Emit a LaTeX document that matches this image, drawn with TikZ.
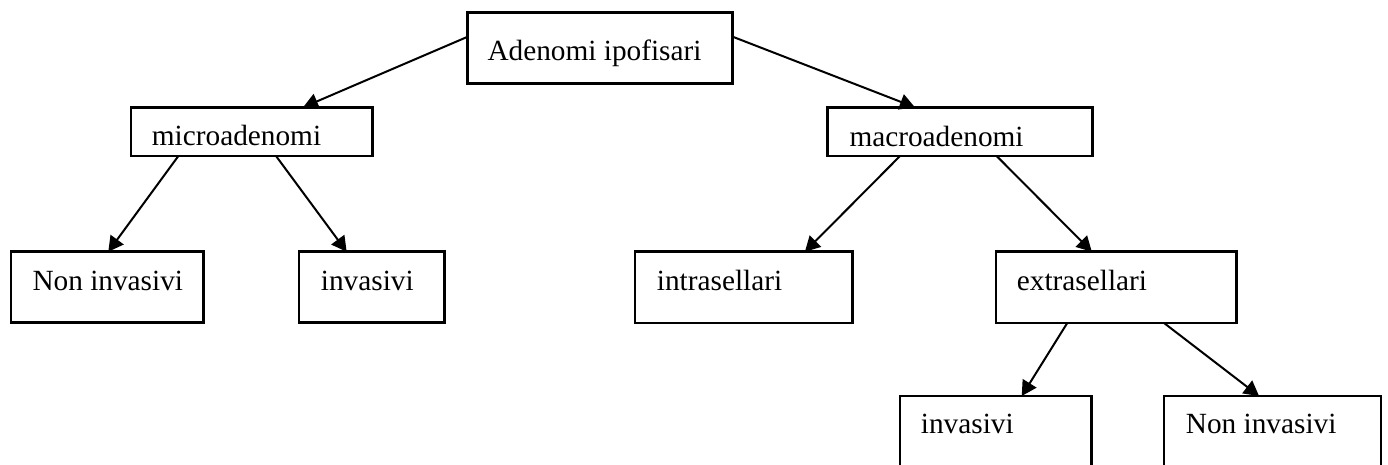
\documentclass[tikz,border=0pt]{standalone}
\usepackage{fontspec}
\setmainfont{Liberation Serif}
\usetikzlibrary{arrows.meta,calc}
\tikzset{
  boxshape/.style={draw=black, line width=2.6pt, rectangle, inner sep=0pt, outer sep=0pt, anchor=north west},
  lbl/.style={inner sep=0pt, anchor=base west, font=\fontsize{29.3}{35}\selectfont},
  arr/.style={line width=2pt, -{Triangle[length=15pt,width=16pt]}}
}
\newcommand\mybox[8]{%
  \pgfmathsetmacro\bw{#4-#2}\pgfmathsetmacro\bh{#5-#3}%
  \node[boxshape, minimum width=\bw pt, minimum height=\bh pt] (#1) at (#2,#3) {};
  \node[lbl] (#1t) at (#6,#7) {#8};
}
\newcommand\conn[4]{%
  \draw[arr] ($(#1.south west)!#2!(#1.south east)$) -- ($(#3.north west)!#4!(#3.north east)$);
}
\begin{document}
\begin{tikzpicture}[x=1pt,y=-1pt]
\useasboundingbox[fill=white] (0,0) rectangle (1388,464);
\mybox{top}{467.7}{12.3}{732.7}{83.3}{487.3}{60}{Adenomi ipofisari}
\mybox{micro}{131}{107.3}{372.7}{156}{151.7}{145.7}{microadenomi}
\mybox{macro}{827.3}{107.3}{1092.7}{156}{849.3}{146}{macroadenomi}
\mybox{nonL}{11}{251.7}{203.3}{322.7}{32.3}{290}{Non invasivi}
\mybox{invL}{299}{251.7}{444.3}{322.7}{320.7}{290}{invasivi}
\mybox{intra}{635}{251.7}{852.3}{323}{656.7}{290}{intrasellari}
\mybox{extra}{996}{251.7}{1236.7}{323}{1016.7}{290}{extrasellari}
\mybox{invB}{900}{396}{1091.7}{467}{920.7}{433.3}{invasivi}
\mybox{nonB}{1164}{396}{1381}{467}{1185.7}{433.3}{Non invasivi}
\draw[arr] ($(top.north west)!0.344!(top.south west)$) -- ($(micro.north west)!0.712!(micro.north east)$);
\draw[arr] ($(top.north east)!0.344!(top.south east)$) -- ($(macro.north west)!0.330!(macro.north east)$);
\conn{micro}{0.196}{nonL}{0.506}
\conn{micro}{0.600}{invL}{0.328}
\conn{macro}{0.274}{intra}{0.782}
\conn{macro}{0.638}{extra}{0.398}
\conn{extra}{0.296}{invB}{0.635}
\conn{extra}{0.698}{nonB}{0.438}
\end{tikzpicture}
\end{document}
